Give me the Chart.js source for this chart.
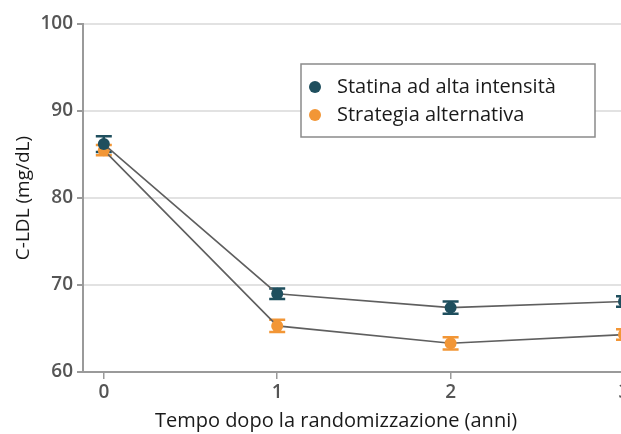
<!DOCTYPE html>
<html>
<head>
<meta charset="utf-8">
<script src="https://cdn.jsdelivr.net/npm/chart.js@4.4.1/dist/chart.umd.min.js"></script>
<style>
  html, body { margin: 0; padding: 0; background: #fff; overflow: hidden; width: 621px; height: 434px; }
  #wrap { width: 640px; height: 434px; position: relative; }
</style>
</head>
<body>
<div id="wrap"><canvas id="c" width="640" height="434"></canvas></div>
<script>
// Years after randomization and mean LDL-C per group, with error half-widths
const years = [0, 1, 2, 3];
const statinaMean = [86.2, 69.0, 67.4, 68.1];
const statinaErr = [0.9, 0.6, 0.7, 0.6];
const alternativaMean = [85.5, 65.3, 63.3, 64.3];
const alternativaErr = [0.6, 0.7, 0.7, 0.6];
const xTicks = [0, 1, 2, 3];
const yTicks = [60, 70, 80, 90, 100];
const seriesNames = ['Statina ad alta intensità', 'Strategia alternativa'];
const xTitle = 'Tempo dopo la randomizzazione (anni)';
const yTitle = 'C-LDL (mg/dL)';

const TEAL = '#1f4f5e';
const ORANGE = '#f29636';
const FONT = '"Open Sans", "Noto Sans", sans-serif';

const toPoints = (xs, ys) => xs.map((x, i) => ({ x: x, y: ys[i] }));

// Vertical error bars with caps, drawn under the markers
const errorBars = {
  id: 'errorBars',
  beforeDatasetsDraw(chart) {
    const { ctx, scales: { x, y } } = chart;
    chart.data.datasets.forEach((ds) => {
      ctx.save();
      ctx.strokeStyle = ds.backgroundColor;
      ctx.lineWidth = 2.5;
      ds.data.forEach((p, i) => {
        const e = ds.errors[i];
        const px = x.getPixelForValue(p.x);
        const top = y.getPixelForValue(p.y + e);
        const bot = y.getPixelForValue(p.y - e);
        ctx.beginPath();
        ctx.moveTo(px, top); ctx.lineTo(px, bot);
        ctx.moveTo(px - 8, top); ctx.lineTo(px + 8, top);
        ctx.moveTo(px - 8, bot); ctx.lineTo(px + 8, bot);
        ctx.stroke();
      });
      ctx.restore();
    });
  }
};

// Boxed legend floating inside the plot, plus the x-axis title
const boxLegend = {
  id: 'boxLegend',
  afterDatasetsDraw(chart) {
    const { ctx } = chart;
    const bx = 301, by = 64, bw = 294, bh = 73;
    ctx.save();
    ctx.fillStyle = '#ffffff';
    ctx.fillRect(bx, by, bw, bh);
    ctx.strokeStyle = '#8a8a8a';
    ctx.lineWidth = 1.5;
    ctx.strokeRect(bx, by, bw, bh);
    ctx.font = '20px ' + FONT;
    ctx.textBaseline = 'middle';
    chart.data.datasets.forEach((ds, i) => {
      const cy = by + 23 + i * 28;
      ctx.fillStyle = ds.backgroundColor;
      ctx.beginPath();
      ctx.arc(bx + 14, cy, 6, 0, Math.PI * 2);
      ctx.fill();
      ctx.fillStyle = '#1a1a1a';
      ctx.fillText(ds.label, bx + 36, cy);
    });
    ctx.restore();
  },
  afterDraw(chart) {
    const { ctx } = chart;
    ctx.save();
    ctx.font = '20px ' + FONT;
    ctx.fillStyle = '#1a1a1a';
    ctx.textAlign = 'center';
    ctx.textBaseline = 'middle';
    ctx.fillText(xTitle, 336, 421);
    ctx.restore();
  }
};

new Chart(document.getElementById('c'), {
  type: 'line',
  data: {
    datasets: [
      {
        label: seriesNames[0],
        data: toPoints(years, statinaMean),
        errors: statinaErr,
        borderColor: '#5f5f5f',
        borderWidth: 1.6,
        backgroundColor: TEAL,
        pointBackgroundColor: TEAL,
        pointBorderColor: TEAL,
        pointRadius: 6,
        pointBorderWidth: 0,
        tension: 0,
        clip: false
      },
      {
        label: seriesNames[1],
        data: toPoints(years, alternativaMean),
        errors: alternativaErr,
        borderColor: '#5f5f5f',
        borderWidth: 1.6,
        backgroundColor: ORANGE,
        pointBackgroundColor: ORANGE,
        pointBorderColor: ORANGE,
        pointRadius: 6,
        pointBorderWidth: 0,
        tension: 0,
        clip: false
      }
    ]
  },
  options: {
    responsive: false,
    animation: false,
    layout: { padding: { top: 24, right: 16, left: 0, bottom: 0 } },
    plugins: { legend: { display: false }, tooltip: { enabled: false } },
    scales: {
      x: {
        type: 'linear',
        min: -0.12,
        max: 3,
        afterBuildTicks: (s) => { s.ticks = xTicks.map(v => ({ value: v })); },
        afterFit: (s) => { s.height = 62; },
        grid: { drawOnChartArea: false, tickLength: 7, tickColor: '#9a9a9a', lineWidth: 1.5 },
        border: { color: '#9a9a9a', width: 2 },
        ticks: { color: '#555', font: { family: FONT, size: 19, weight: '600' }, padding: 2, maxRotation: 0 }
      },
      y: {
        min: 60,
        max: 100,
        afterBuildTicks: (s) => { s.ticks = yTicks.map(v => ({ value: v })); },
        afterFit: (s) => { s.width = 83; },
        grid: { color: '#e2e2e2', lineWidth: 2, tickLength: 6, tickColor: '#9a9a9a' },
        border: { color: '#9a9a9a', width: 2 },
        ticks: { color: '#555', font: { family: FONT, size: 19, weight: '600' }, padding: 4 },
        title: { display: true, text: yTitle, color: '#1a1a1a', font: { family: FONT, size: 19 }, padding: { top: 12, bottom: 0 } }
      }
    }
  },
  plugins: [errorBars, boxLegend]
});
</script>
</body>
</html>
